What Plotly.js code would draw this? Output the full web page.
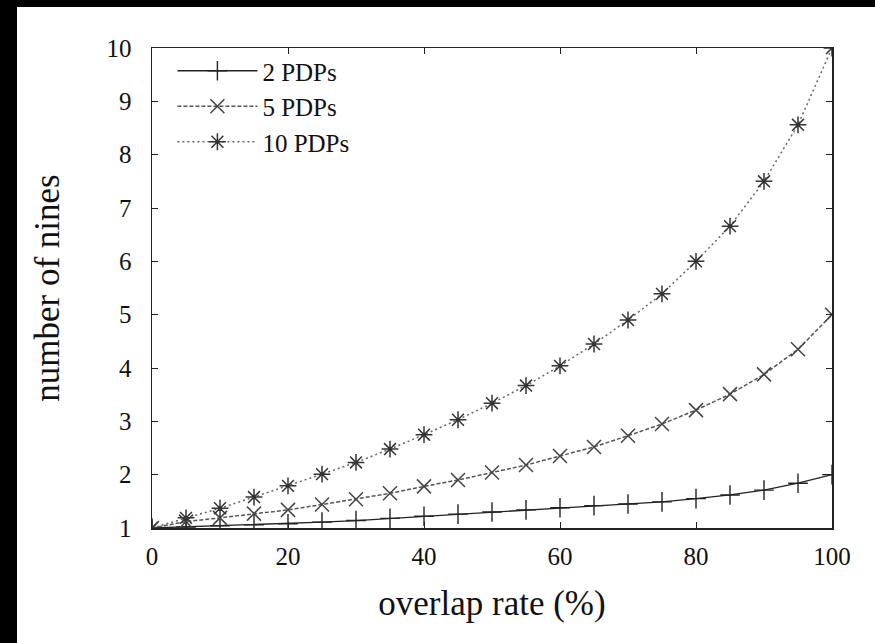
<!DOCTYPE html>
<html>
<head>
<meta charset="utf-8">
<script src="https://cdn.plot.ly/plotly-3.0.1.min.js"></script>
<style>
html,body{margin:0;padding:0;background:#000;width:875px;height:643px;overflow:hidden;}
#chart{position:absolute;left:17px;top:7px;width:858px;height:636px;background:#fff;}
</style>
</head>
<body>
<div id="chart"></div>
<script>
const overlap = [0,5,10,15,20,25,30,35,40,45,50,55,60,65,70,75,80,85,90,95,100];
const pdp2  = [1.00,1.02,1.04,1.06,1.08,1.11,1.14,1.18,1.22,1.26,1.30,1.34,1.38,1.42,1.45,1.49,1.55,1.62,1.71,1.84,2.00];
const pdp5  = [1.00,1.12,1.19,1.27,1.34,1.44,1.54,1.65,1.78,1.90,2.04,2.18,2.35,2.52,2.73,2.95,3.21,3.51,3.88,4.35,5.00];
const pdp10 = [1.00,1.19,1.37,1.58,1.79,2.01,2.23,2.48,2.75,3.03,3.34,3.67,4.04,4.45,4.90,5.39,6.00,6.66,7.50,8.56,10.00];
const seriesNames = ['2 PDPs','5 PDPs','10 PDPs'];
const xTicks = [0,20,40,60,80,100];
const yTicks = [1,2,3,4,5,6,7,8,9,10];

const font = 'Liberation Serif, Times New Roman, serif';

const traces = [
  {x: overlap, y: pdp2, name: seriesNames[0], mode: 'lines+markers',
   line: {color: '#222', width: 1.3, dash: 'solid'},
   marker: {symbol: 'cross-thin', size: 14, color: '#222', line: {color: '#222', width: 1.4}}},
  {x: overlap, y: pdp5, name: seriesNames[1], mode: 'lines+markers',
   line: {color: '#555', width: 1.5, dash: '4px,2px'},
   marker: {symbol: 'x-thin', size: 14, color: '#444', line: {color: '#444', width: 1.5}}},
  {x: overlap, y: pdp10, name: seriesNames[2], mode: 'lines+markers',
   line: {color: '#666', width: 1.5, dash: '2px,3px'},
   marker: {symbol: 'asterisk', size: 14, color: '#333', line: {color: '#333', width: 1.5}}}
];

const axisCommon = {
  showgrid: false, zeroline: false, showline: true, linecolor: '#222', linewidth: 1.5,
  mirror: 'ticks', ticks: 'inside', ticklen: 6, tickwidth: 1, tickcolor: '#222',
  tickfont: {family: font, size: 25, color: '#111'}
};

const layout = {
  width: 858, height: 636,
  paper_bgcolor: '#fff', plot_bgcolor: '#fff',
  margin: {l: 135, r: 43, t: 41, b: 115},
  showlegend: true,
  legend: {x: 0.03, y: 1.0, xanchor: 'left', yanchor: 'top', bgcolor: 'rgba(0,0,0,0)',
           itemwidth: 80,
           font: {family: font, size: 25, color: '#111'}, tracegroupgap: 0},
  xaxis: Object.assign({}, axisCommon, {
    range: [0, 100], tickvals: xTicks, ticktext: xTicks.map(String), ticklabelstandoff: 5,
    title: {text: 'overlap rate (%)', font: {family: font, size: 35, color: '#111'}, standoff: 22}
  }),
  yaxis: Object.assign({}, axisCommon, {
    range: [1, 10], tickvals: yTicks, ticktext: yTicks.map(String), ticklabelstandoff: 14,
    title: {text: 'number of nines', font: {family: font, size: 35, color: '#111'}, standoff: 36}
  })
};

Plotly.newPlot('chart', traces, layout, {displayModeBar: false, staticPlot: true});
</script>
</body>
</html>
